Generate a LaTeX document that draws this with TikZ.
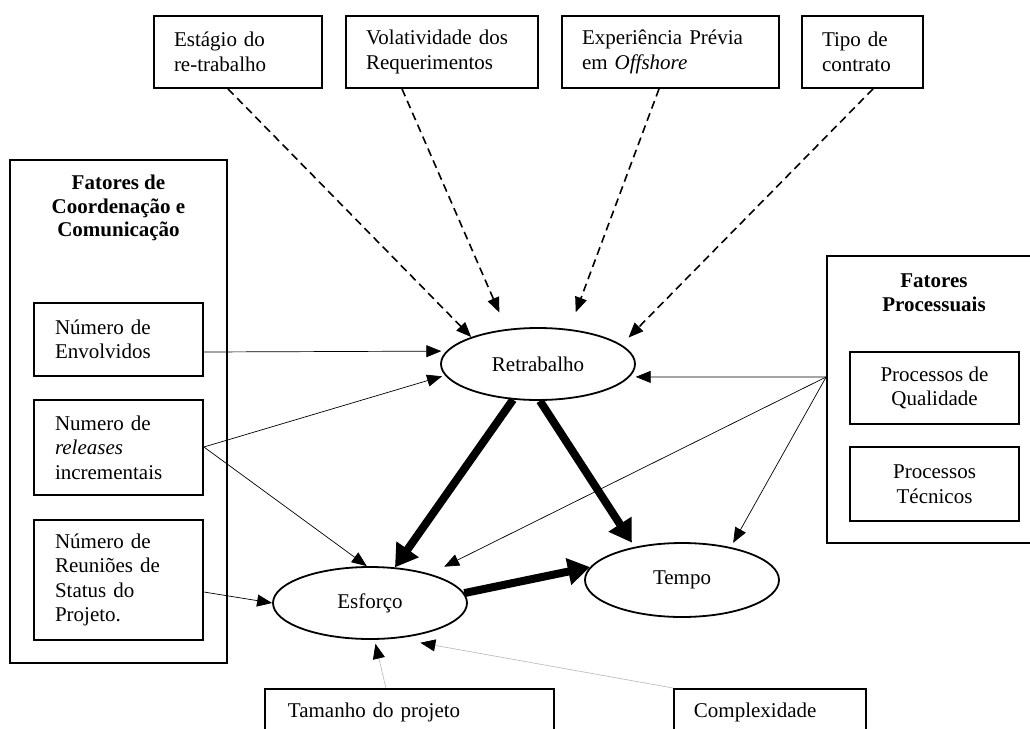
\documentclass[tikz,border=0pt]{standalone}
\usepackage{fontspec}
\setmainfont{Liberation Serif}
\usetikzlibrary{arrows.meta,shapes.geometric,calc}
\begin{document}
\begin{tikzpicture}[x=1pt,y=-1pt,
  txt/.style={font=\fontsize{21}{24.5}\selectfont},
  ttl/.style={font=\fontsize{21}{23.5}\selectfont\bfseries,align=center},
  box/.style={draw,line width=1.8pt,rectangle,txt,align=left,inner xsep=20pt,inner ysep=0pt},
  cbox/.style={draw,line width=1.8pt,rectangle,txt,align=center,inner sep=0pt},
  grp/.style={draw,line width=1.8pt,rectangle,inner sep=0pt},
  ell/.style={draw,line width=1.8pt,ellipse,txt,minimum width=194pt,minimum height=72pt,inner sep=0pt},
  thinar/.style={line width=0.7pt,-{Triangle[length=15pt,width=12pt]}},
  dashar/.style={line width=1.6pt,dash pattern=on 8pt off 5pt,-{Triangle[length=15pt,width=12pt]}},
  thickar/.style={line width=8pt,-{Triangle[length=22pt,width=26pt]}},
  greyar/.style={draw=black!25,line width=0.7pt,-{Triangle[length=15pt,width=12pt,color=black,fill=black]}}
]
\useasboundingbox (0,0) rectangle (1030,728);
\fill[white] (0,0) rectangle (1030,728);

% top boxes
\node[box,text width=128pt,minimum height=72pt] (b1) at (238,52) {Estágio do\\re-trabalho};
\node[box,text width=152pt,minimum height=72pt] (b2) at (442,52) {Volatividade dos\\Requerimentos};
\node[box,text width=177pt,minimum height=72pt] (b3) at (670.5,52) {Experiência Prévia\\em \textit{Offshore}};
\node[box,text width=81pt,minimum height=72pt] (b4) at (862.5,52) {Tipo de\\contrato};

% left group
\node[grp,minimum width=217pt,minimum height=503pt] (lg) at (118.5,411.5) {};
\node[ttl] (lgt) at (118.5,208) {Fatores de\\Coordenação e\\Comunicação};
\node[box,inner xsep=21pt,text width=127pt,minimum height=73pt] (env) at (118.5,339.5) {Número de\\Envolvidos};
\node[box,inner xsep=21pt,text width=127pt,minimum height=95pt] (rel) at (118.5,447.5) {Numero de\\\textit{releases}\\incrementais};
\node[box,inner xsep=21pt,text width=127pt,minimum height=120pt] (reu) at (118.5,580) {Número de\\Reuniões de\\Status do\\Projeto.};

% right group
\node[grp,minimum width=214pt,minimum height=287pt] (rg) at (934,399.5) {};
\node[ttl] (rgt) at (934,292.5) {Fatores\\Processuais};
\node[cbox,minimum width=169pt,minimum height=72pt] (qual) at (934.5,388) {Processos de\\Qualidade};
\node[cbox,minimum width=169pt,minimum height=74pt] (tec) at (934.5,484) {Processos\\Técnicos};

% ellipses
\node[ell] (ret) at (538,364) {Retrabalho};
\node[ell] (esf) at (370,603) {Esforço};
\node[ell,minimum height=74pt] (tempo) at (682,580) {Tempo};

% bottom boxes
\node[box,anchor=north west,inner xsep=23pt,inner ysep=14pt,text width=243pt] (tam) at (264,688) {Tamanho do projeto};
\node[box,anchor=north west,inner xsep=20pt,inner ysep=14pt,text width=152pt] (cx) at (673,688) {Complexidade};

% dashed arrows
\draw[dashar] ([xshift=-10pt]b1.south) -- (ret.158);
\draw[dashar,shorten >=18pt] ([xshift=-40pt]b2.south) -- (ret.132);
\draw[dashar,shorten >=18pt] ([xshift=-11.5pt]b3.south) -- (ret.48);
\draw[dashar,shorten >=10pt] ([xshift=10.5pt]b4.south) -- (ret.13);

% thin arrows from left
\draw[thinar,shorten >=5pt] ([yshift=-12.5pt]env.east) -- (ret.172);
\draw[thinar,shorten >=3pt] ([yshift=0.5pt]rel.east) -- (ret.187);
\draw[thinar] ([yshift=0.5pt]rel.east) -- (esf.95);
\draw[thinar] ([yshift=-12pt]reu.east) -- (esf.180);

% thin arrows from right
\draw[thinar,shorten >=6pt] ([yshift=22.5pt]rg.west) -- (ret.-8);
\draw[thinar,shorten >=16pt] ([yshift=22.5pt]rg.west) -- (esf.26);
\draw[thinar,shorten >=5pt] ([yshift=22.5pt]rg.west) -- (tempo.34);

% thick arrows
\draw[thickar] (ret.235) -- (esf.55);
\draw[thickar,shorten >=5pt] (ret.-87) -- (tempo.145);
\draw[thickar] (esf.6) -- (tempo.172);

% grey arrows
\draw[greyar,shorten >=4pt] ([xshift=-23.5pt]tam.north) -- (esf.-83);
\draw[greyar,shorten >=24pt] (cx.north west) -- (esf.-53);
\end{tikzpicture}
\end{document}
